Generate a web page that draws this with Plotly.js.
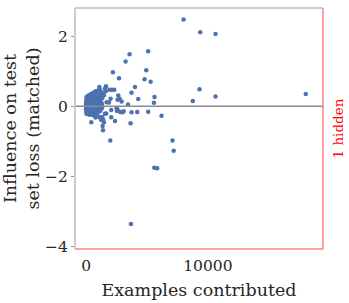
<!DOCTYPE html>
<html>
<head>
<meta charset="utf-8">
<script src="https://cdn.plot.ly/plotly-3.0.1.min.js"></script>
<style>html,body{margin:0;padding:0;background:#fff;}#chart{width:349px;height:303px;}</style>
</head>
<body>
<div id="chart"></div>
<script>
// Dense cluster of contributors with few examples
const clusterX = [-40,-30,-20,-10,0,10,20,30,40,50,60,70,80,90,100,110,120,130,140,150,160,170,180,190,200,210,220,230,240,250,260,270,280,290,300,
 310,320,330,340,350,360,370,380,390,400,410,420,430,440,450,460,470,480,490,500,510,520,530,540,550,560,570,580,590,600,610,620,630,640,650,660,670,680,690,700,710,720,730,740,750,760,770,780,790,800,
 810,820,840,850,860,870,880,900,910,920,940,950,960,980,990,1000,1010,1030,1040,1060,1070,1090,1100,1120,1130,1150,1160,1180,1200,1220,1230,1250,1270,1290,1300,1320,1350,
 15,55,95,135,175,215,255,295,335,375,415,455,495,535,575,615,655,695,735,775,25,65,105,145,185,225,265,305,345,385];
const clusterY = [0.02,-0.08,0.12,-0.15,0.05,0.2,-0.05,0.27,-0.18,0.1,-0.12,0.0,0.15,-0.2,0.22,-0.03,0.07,-0.1,0.3,-0.22,0.18,0.03,-0.16,0.25,-0.06,0.12,-0.19,0.02,0.28,-0.11,0.08,0.2,-0.24,-0.02,0.15,
 0.33,-0.14,0.05,0.24,-0.21,0.1,-0.04,0.3,0.18,-0.17,0.0,0.36,0.12,-0.09,0.26,-0.23,0.04,0.2,-0.13,0.34,0.09,-0.06,0.28,-0.19,0.15,0.02,0.38,-0.1,0.22,-0.25,0.06,0.31,-0.15,0.17,-0.02,0.4,0.11,-0.2,0.25,-0.07,0.35,0.03,-0.16,0.2,0.42,-0.11,0.08,0.29,-0.22,0.14,
 0.37,-0.04,0.24,0.44,-0.15,0.1,0.33,-0.09,0.19,0.41,0.02,-0.18,0.28,0.38,0.07,-0.12,0.22,0.43,0.14,-0.06,0.32,0.05,0.4,-0.14,0.18,0.35,0.0,0.27,0.42,-0.08,0.12,0.3,0.38,0.05,-0.03,0.24,0.36,
 0.0,0.06,-0.04,0.1,0.14,0.04,0.0,0.09,-0.08,0.06,0.16,-0.01,0.13,0.03,0.1,-0.05,0.07,0.12,0.0,-0.01,-0.22,0.25,-0.17,0.02,-0.09,0.17,-0.15,-0.07,0.11,-0.12];
// Scattered contributors
const spreadX = [8000,9370,10630,18050,9310,10630,8760,5090,3560,3230,4930,2190,2690,4790,5290,4000,3720,5610,4270,5560,3430,5090,4190,3720,6190,3640,7090,7190,5590,5830,3670,1970,
 1620,1910,2110,2300,1090,2630,2740,2900,2000,1860,3070,2980,2570,2520,2790,2490,2050,2050,2360,1640,1530,1370,1450,1340,1370,1040,760,410,1600,1450,1070,1530,1670,1310,1210,2570];
const spreadY = [2.47,2.11,2.06,0.35,0.49,0.28,0.15,1.57,1.48,1.28,1.03,0.97,0.80,0.77,0.70,0.55,0.39,0.27,0.21,0.10,0.05,-0.15,-0.16,-0.17,-0.27,-0.48,-0.97,-1.26,-1.75,-1.76,-3.35,-0.97,
 0.57,0.47,0.47,0.47,0.50,0.31,0.22,0.14,0.22,0.11,-0.14,-0.17,-0.09,-0.13,-0.16,-0.05,-0.10,-0.31,-0.42,-0.20,-0.21,-0.37,-0.45,-0.56,-0.68,-0.30,-0.32,-0.45,0.43,0.32,0.55,0.50,0.12,-0.30,-0.38,0.19];

const xTickVals = [0, 10000];
const xTickText = ["0", "10000"];
const yTickVals = [-4, -2, 0, 2];
const yTickText = ["\u22124", "\u22122", "0", "2"];
const hiddenNote = "1 hidden";

const font = "DejaVu Serif";
const traces = [{
  type: "scatter", mode: "markers",
  x: clusterX.concat(spreadX), y: clusterY.concat(spreadY),
  marker: {size: 4.5, color: "#4c72b0", line: {width: 0}},
  hoverinfo: "none", showlegend: false
}];
const layout = {
  width: 349, height: 303,
  margin: {l: 75, r: 26, t: 8, b: 54, pad: 0},
  paper_bgcolor: "#fff", plot_bgcolor: "#fff",
  font: {family: font, color: "#262626", size: 15.5},
  showlegend: false,
  xaxis: {
    range: [-930, 19470], tickvals: xTickVals, ticktext: xTickText,
    showgrid: false, zeroline: false, showline: false,
    ticks: "outside", ticklen: 2, tickcolor: "rgba(0,0,0,0)",
    tickfont: {family: font, size: 15.5, color: "#262626"},
    title: {text: "Examples contributed", font: {family: font, size: 17.5, color: "#262626"}, standoff: 10}
  },
  yaxis: {
    range: [-4.06, 2.80], tickvals: yTickVals, ticktext: yTickText,
    showgrid: false, zeroline: false, showline: false,
    ticks: "outside", ticklen: 3, tickwidth: 1, tickcolor: "#999",
    tickfont: {family: font, size: 15.5, color: "#262626"},
    title: {text: "Influence on test<br>set loss (matched)", font: {family: font, size: 17.5, color: "#262626"}, standoff: 6}
  },
  shapes: [
    {type: "line", xref: "paper", yref: "y", x0: 0, x1: 1, y0: 0, y1: 0, line: {color: "#8c8c8c", width: 1.5}, layer: "above"},
    {type: "line", xref: "paper", yref: "paper", x0: 0, x1: 0, y0: 0, y1: 1, line: {color: "#bcbcbc", width: 1.5}},
    {type: "line", xref: "paper", yref: "paper", x0: 0, x1: 1, y0: 1, y1: 1, line: {color: "#bcbcbc", width: 1.5}},
    {type: "line", xref: "paper", yref: "paper", x0: 1, x1: 1, y0: 0, y1: 1, line: {color: "#ff8080", width: 1.5}},
    {type: "line", xref: "paper", yref: "paper", x0: 0, x1: 1, y0: 0, y1: 0, line: {color: "#ff8080", width: 1.5}}
  ],
  annotations: [{
    text: hiddenNote, xref: "paper", yref: "paper", x: 1, y: 0.5,
    xanchor: "left", yanchor: "middle", xshift: 4, textangle: -90, showarrow: false,
    font: {family: font, size: 13.5, color: "#ff0000"}
  }]
};
Plotly.newPlot("chart", traces, layout, {staticPlot: true, displayModeBar: false});
</script>
</body>
</html>
